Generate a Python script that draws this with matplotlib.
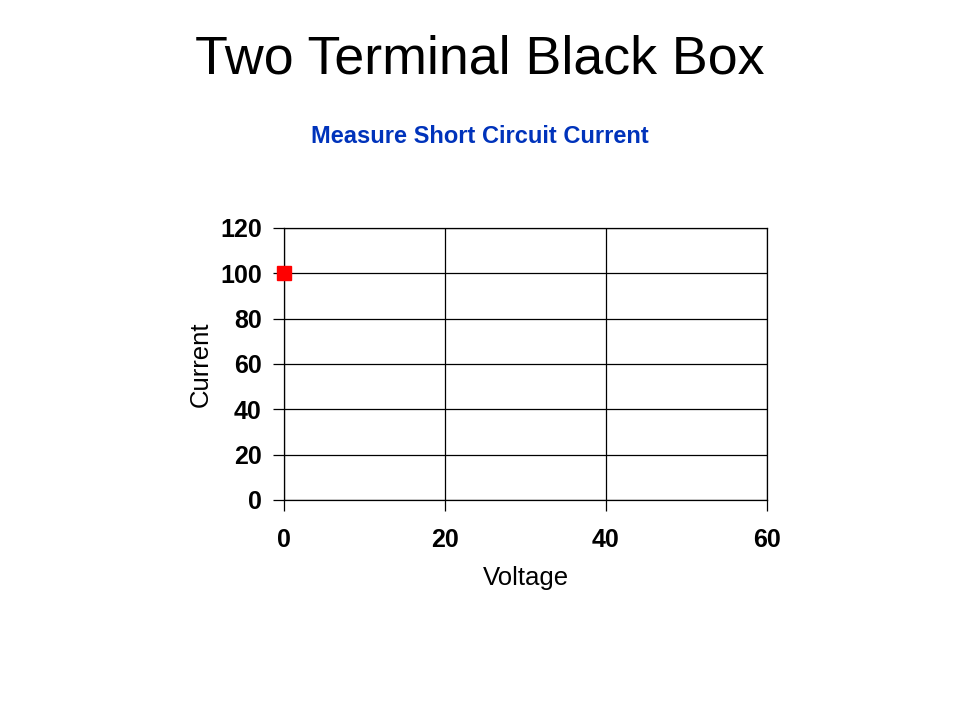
import matplotlib
matplotlib.use("Agg")
import matplotlib.pyplot as plt

plt.rcParams['font.family'] = ['Liberation Sans', 'DejaVu Sans']

# measured point
voltage = [0]
current = [100]

x_ticks = [0, 20, 40, 60]
y_ticks = [0, 20, 40, 60, 80, 100, 120]

fig = plt.figure(figsize=(9.6, 7.2), dpi=100)
fig.text(0.5, 0.918, 'Two Terminal Black Box', ha='center', va='center', fontsize=38.7)
fig.text(0.5, 0.811, 'Measure Short Circuit Current', ha='center', va='center',
         fontsize=17, fontweight='bold', color='#0033bb')

ax = fig.add_axes([0.2958, 0.3056, 0.5031, 0.3778])
ax.plot(voltage, current, 's', color='red', markersize=10, clip_on=False, zorder=5)

ax.set_xlim(0, 60)
ax.set_ylim(0, 120)
ax.set_xticks(x_ticks)
ax.set_yticks(y_ticks)
ax.grid(True, color='black', linewidth=0.9)
for s in ['top', 'right', 'left', 'bottom']:
    ax.spines[s].set_linewidth(0.9)
ax.tick_params(direction='out', length=8, width=0.9, labelsize=18, pad=12)
ax.tick_params(axis='y', pad=8)
ax.tick_params(top=False, right=False)
for lbl in ax.get_xticklabels() + ax.get_yticklabels():
    lbl.set_fontweight('bold')
ax.set_xlabel('Voltage', fontsize=18.5, labelpad=10)
ax.set_ylabel('Current', fontsize=18.5, labelpad=5)

fig.savefig('out.png', dpi=100)
